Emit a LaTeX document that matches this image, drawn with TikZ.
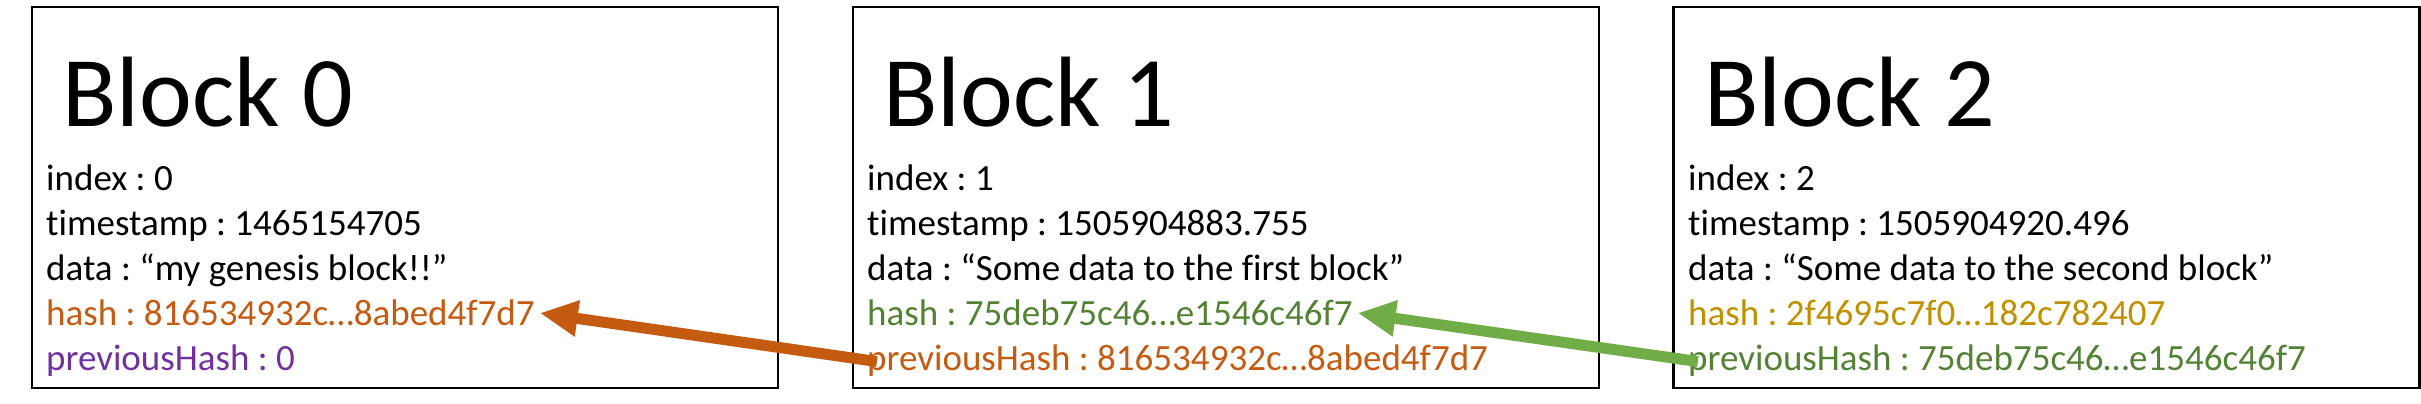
\documentclass[tikz,border=0pt]{standalone}
\usepackage{fontspec}
\setmainfont{Carlito}[RawFeature = -liga]
\usetikzlibrary{arrows.meta}
\frenchspacing

\definecolor{hashOrange}{HTML}{C55A11}
\definecolor{prevPurple}{HTML}{7030A0}
\definecolor{hashGreen}{HTML}{548235}
\definecolor{linkGreen}{HTML}{70AD47}
\definecolor{hashGold}{HTML}{BF9000}

\tikzset{
	blockBox/.style = {draw = black, line width = 2.5pt, minimum width = 746pt, minimum height = 381pt, inner sep = 0pt},
	blockTitle/.style = {anchor = base west, inner sep = 0pt, font = \fontsize{100}{110}\selectfont},
	field/.style = {anchor = base west, inner sep = 0pt, font = \fontsize{37}{45}\selectfont},
	hashLink/.style = {line width = 11pt, -{Triangle[length = 38pt, width = 34pt]}, shorten > = 5pt, shorten < = -10pt}
}

\begin{document}
\begin{tikzpicture}[x = 1pt, y = -1pt]

	\useasboundingbox (0, 0) rectangle (2421, 404);

	% the three block frames
	\def\boxMid{197.5}
	\node[blockBox] (block0) at (405, \boxMid) {};
	\node[blockBox] (block1) at (1226, \boxMid) {};
	\node[blockBox] (block2) at (2046.5, \boxMid) {};

	% block 0, the genesis block
	\node[blockTitle] (title0) at (62, 126) {Block 0};
	\node[field] (index0) at (46, 190) {index : 0};
	\node[field] (time0) at (46, 235) {timestamp : 1465154705};
	\node[field] (data0) at (46, 280) {data : “my genesis block!!”};
	\node[field, text = hashOrange] (hash0) at (46, 325) {hash : 816534932c…8abed4f7d7};
	\node[field, text = prevPurple] (prev0) at (46, 370) {previousHash : 0};

	% block 1
	\node[blockTitle] (title1) at (883, 126) {Block 1};
	\node[field] (index1) at (867, 190) {index : 1};
	\node[field] (time1) at (867, 235) {timestamp : 1505904883.755};
	\node[field] (data1) at (867, 280) {data : “Some data to the first block”};
	\node[field, text = hashGreen] (hash1) at (867, 325) {hash : 75deb75c46…e1546c46f7};
	\node[field, text = hashOrange] (prev1) at (867, 370) {previousHash : 816534932c…8abed4f7d7};

	% block 2
	\node[blockTitle] (title2) at (1704, 126) {Block 2};
	\node[field] (index2) at (1688, 190) {index : 2};
	\node[field] (time2) at (1688, 235) {timestamp : 1505904920.496};
	\node[field] (data2) at (1688, 280) {data : “Some data to the second block”};
	\node[field, text = hashGold] (hash2) at (1688, 325) {hash : 2f4695c7f0…182c782407};
	\node[field, text = hashGreen] (prev2) at (1688, 370) {previousHash : 75deb75c46…e1546c46f7};

	% previous hash points back to the hash of the block before
	\draw[hashLink, hashOrange] (prev1.west) -- (hash0.east);
	\draw[hashLink, linkGreen] (prev2.west) -- (hash1.east);

\end{tikzpicture}
\end{document}
